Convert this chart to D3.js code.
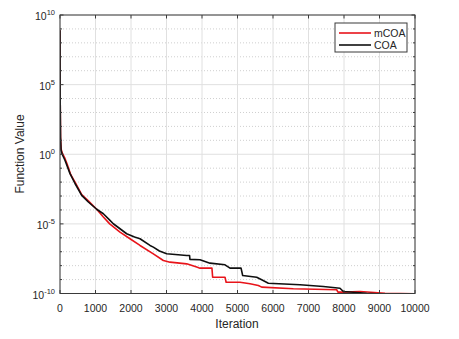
<!DOCTYPE html>
<html>
<head>
<meta charset="utf-8">
<script src="https://cdn.jsdelivr.net/npm/d3@7"></script>
<style>
  body { margin: 0; background: #fff; }
  svg text { font-family: "Liberation Sans", Arial, sans-serif; fill: #262626; }
</style>
</head>
<body>
<svg id="chart" width="459" height="339"></svg>
<script>
// convergence curves: iteration and log10(function value)
const coaIter = [0, 5, 15, 30, 60, 140, 282, 423, 611, 798, 1033, 1221, 1408, 1502, 1690, 1878, 2100, 2254, 2535, 2629, 2800, 3005, 3568, 3650, 3660, 3944, 4225, 4648, 4789, 5100, 5146, 5540, 5681, 5869, 6761, 7418, 7887, 7981, 8638, 9202, 10000];
const coaLog  = [8.9, 4, 1.2, 0.3, 0.0, -0.43, -1.39, -2.1, -2.95, -3.43, -3.95, -4.27, -4.75, -4.99, -5.35, -5.71, -5.95, -6.07, -6.55, -6.67, -6.95, -7.15, -7.27, -7.27, -7.55, -7.58, -7.82, -7.94, -8.18, -8.18, -8.71, -8.83, -9.01, -9.26, -9.37, -9.5, -9.62, -9.86, -9.98, -10.05, -10.05];

const mcoaIter = [0, 5, 15, 30, 60, 140, 200, 300, 423, 611, 798, 1033, 1221, 1400, 1690, 1972, 2254, 2629, 2911, 3099, 3568, 3850, 3944, 4280, 4300, 4648, 4680, 5070, 5352, 5587, 5681, 6573, 7793, 7830, 8000, 8451, 9155, 10000];
const mcoaLog  = [8.9, 4, 1.2, 0.4, 0.1, -0.3, -0.7, -1.45, -2.0, -2.9, -3.35, -3.95, -4.51, -5.0, -5.59, -6.07, -6.55, -7.15, -7.63, -7.75, -7.87, -8.1, -8.18, -8.18, -8.83, -8.83, -9.19, -9.19, -9.3, -9.42, -9.54, -9.66, -9.73, -9.9, -9.9, -9.86, -9.98, -10.03];

const xTicks = [0, 1000, 2000, 3000, 4000, 5000, 6000, 7000, 8000, 9000, 10000];
const yMajor = [10, 5, 0, -5, -10];
const yMinor = d3.range(-10, 11);
const seriesNames = ["mCOA", "COA"];
const seriesColors = ["#e8141a", "#101010"];

const svg = d3.select("#chart");
const L = 60, R = 415, T = 15, B = 293.5;

const x = d3.scaleLinear().domain([0, 10000]).range([L, R]);
const y = d3.scaleLog().domain([1e-10, 1e10]).range([B, T]);

// minor dotted grid at each decade
svg.append("g").selectAll("line")
  .data(yMinor.filter(d => !yMajor.includes(d)))
  .enter().append("line")
  .attr("x1", L).attr("x2", R)
  .attr("y1", d => y(Math.pow(10, d))).attr("y2", d => y(Math.pow(10, d)))
  .attr("stroke", "#cfcfcf").attr("stroke-width", 1)
  .attr("stroke-dasharray", "1,2");

// major grid
svg.append("g").selectAll("line")
  .data(yMajor)
  .enter().append("line")
  .attr("x1", L).attr("x2", R)
  .attr("y1", d => y(Math.pow(10, d))).attr("y2", d => y(Math.pow(10, d)))
  .attr("stroke", "#e0e0e0").attr("stroke-width", 1);

svg.append("g").selectAll("line")
  .data(xTicks)
  .enter().append("line")
  .attr("x1", d => x(d)).attr("x2", d => x(d))
  .attr("y1", T).attr("y2", B)
  .attr("stroke", "#e0e0e0").attr("stroke-width", 1);

// curves
const line = d3.line()
  .x(d => x(d[0]))
  .y(d => y(Math.pow(10, d[1])));

const series = [
  d3.zip(mcoaIter, mcoaLog),
  d3.zip(coaIter, coaLog)
];

svg.append("defs").append("clipPath").attr("id", "clip")
  .append("rect").attr("x", L).attr("y", T).attr("width", R - L).attr("height", B - T);

svg.append("g").attr("clip-path", "url(#clip)")
  .selectAll("path")
  .data(series)
  .enter().append("path")
  .attr("d", line)
  .attr("fill", "none")
  .attr("stroke", (d, i) => seriesColors[i])
  .attr("stroke-width", 1.6)
  .attr("stroke-linejoin", "round");

// box + ticks (inward, all sides)
const axisColor = "#3a3a3a";
svg.append("rect")
  .attr("x", L).attr("y", T).attr("width", R - L).attr("height", B - T)
  .attr("fill", "none").attr("stroke", axisColor).attr("stroke-width", 1);

const ticks = svg.append("g").attr("stroke", axisColor).attr("stroke-width", 1);
xTicks.forEach(t => {
  ticks.append("line").attr("x1", x(t)).attr("x2", x(t)).attr("y1", B).attr("y2", B - 3.5);
  ticks.append("line").attr("x1", x(t)).attr("x2", x(t)).attr("y1", T).attr("y2", T + 3.5);
});
yMinor.forEach(d => {
  const len = yMajor.includes(d) ? 3.5 : 2;
  const yy = y(Math.pow(10, d));
  ticks.append("line").attr("x1", L).attr("x2", L + len).attr("y1", yy).attr("y2", yy);
  ticks.append("line").attr("x1", R).attr("x2", R - len).attr("y1", yy).attr("y2", yy);
});

// x tick labels
svg.append("g").selectAll("text")
  .data(xTicks)
  .enter().append("text")
  .attr("x", d => x(d)).attr("y", 312)
  .attr("text-anchor", "middle")
  .attr("font-size", 10.5)
  .text(d => d);

// y tick labels with superscript
const yl = svg.append("g").selectAll("text")
  .data(yMajor)
  .enter().append("text")
  .attr("x", 55).attr("y", d => y(Math.pow(10, d)) + 5)
  .attr("text-anchor", "end")
  .attr("font-size", 10.5);
yl.append("tspan").text("10");
yl.append("tspan").attr("dy", -5).attr("font-size", 7.5).text(d => d);

// axis titles
svg.append("text")
  .attr("x", 237).attr("y", 328)
  .attr("text-anchor", "middle").attr("font-size", 12)
  .text("Iteration");

svg.append("text")
  .attr("transform", "translate(24,154) rotate(-90)")
  .attr("text-anchor", "middle").attr("font-size", 12)
  .text("Function Value");

// legend
const lg = svg.append("g");
lg.append("rect")
  .attr("x", 335).attr("y", 23).attr("width", 72).attr("height", 29)
  .attr("fill", "#fff").attr("stroke", axisColor).attr("stroke-width", 1);
seriesNames.forEach((n, i) => {
  const yy = 33 + i * 12;
  lg.append("line").attr("x1", 339).attr("x2", 371).attr("y1", yy).attr("y2", yy)
    .attr("stroke", seriesColors[i]).attr("stroke-width", 1.6);
  lg.append("text").attr("x", 374).attr("y", yy + 3.8)
    .attr("font-size", 10.5).text(n);
});
</script>
</body>
</html>
